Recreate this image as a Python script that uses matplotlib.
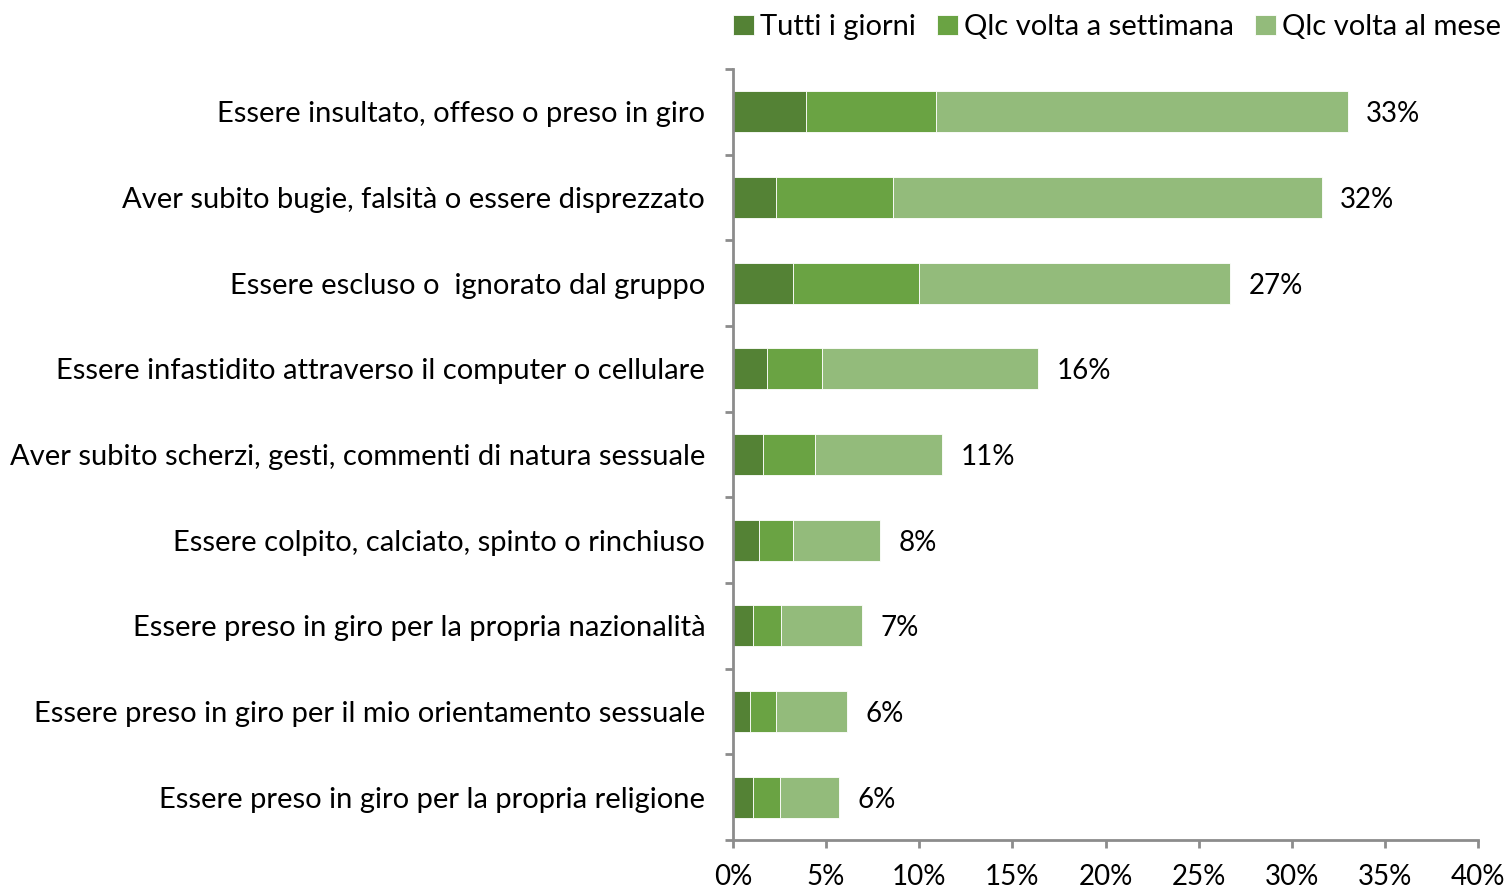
import matplotlib
matplotlib.use("Agg")
import matplotlib.pyplot as plt
import numpy as np
from matplotlib.ticker import FixedLocator, PercentFormatter

categories = [
    "Essere insultato, offeso o preso in giro",
    "Aver subito bugie, falsità o essere disprezzato",
    "Essere escluso o  ignorato dal gruppo",
    "Essere infastidito attraverso il computer o cellulare",
    "Aver subito scherzi, gesti, commenti di natura sessuale",
    "Essere colpito, calciato, spinto o rinchiuso",
    "Essere preso in giro per la propria nazionalità",
    "Essere preso in giro per il mio orientamento sessuale",
    "Essere preso in giro per la propria religione",
]
series_names = ["Tutti i giorni", "Qlc volta a settimana", "Qlc volta al mese"]
tutti_i_giorni = [3.9, 2.3, 3.2, 1.8, 1.6, 1.4, 1.1, 0.9, 1.1]
qlc_settimana = [7.0, 6.3, 6.8, 3.0, 2.8, 1.8, 1.5, 1.4, 1.4]
qlc_mese = [22.1, 23.0, 16.7, 11.6, 6.8, 4.7, 4.3, 3.8, 3.2]
total_labels = ["33%", "32%", "27%", "16%", "11%", "8%", "7%", "6%", "6%"]
x_ticks = [0, 5, 10, 15, 20, 25, 30, 35, 40]

colors = ["#548235", "#6AA343", "#93BB7B"]
plt.rcParams["font.family"] = ["Lato", "DejaVu Sans"]

fig = plt.figure(figsize=(15.08, 8.93), dpi=100)
ax = fig.add_axes([733 / 1508, 53 / 893, 745 / 1508, 771 / 893])

y = np.arange(len(categories))
left = np.zeros(len(categories))
for vals, name, col in zip([tutti_i_giorni, qlc_settimana, qlc_mese], series_names, colors):
    ax.barh(y, vals, left=left, height=0.48, color=col, label=name,
            edgecolor="white", linewidth=0.6)
    left = left + np.array(vals)

for yi, tot, lab in zip(y, left, total_labels):
    ax.text(tot + 1.0, yi, lab, va="center_baseline", ha="left", fontsize=20, color="black")

ax.set_xlim(0, 40)
ax.set_ylim(len(categories) - 0.5, -0.5)
ax.set_yticks(y)
ax.set_yticklabels(categories, fontsize=21, va="center_baseline")
ax.yaxis.set_minor_locator(FixedLocator(np.arange(-0.5, len(categories), 1.0)))
ax.tick_params(axis="y", which="major", length=0, pad=20)
ax.tick_params(axis="y", which="minor", length=6, width=2, color="#8C8C8C", direction="out")

ax.set_xticks(x_ticks)
ax.xaxis.set_major_formatter(PercentFormatter(decimals=0))
ax.tick_params(axis="x", which="major", length=6, width=2, color="#8C8C8C",
               direction="out", labelsize=20, pad=11)

for s in ["top", "right"]:
    ax.spines[s].set_visible(False)
for s in ["left", "bottom"]:
    ax.spines[s].set_color("#8C8C8C")
    ax.spines[s].set_linewidth(2)

leg = ax.legend(loc="upper right", bbox_to_anchor=(1.0, 0.992),
                bbox_transform=fig.transFigure, ncol=3, frameon=False,
                fontsize=21, handlelength=0.7, handleheight=0.7,
                handletextpad=0.2, columnspacing=0.75, borderaxespad=0.0,
                borderpad=0.25)

fig.savefig("out.png", dpi=100, facecolor="white")
